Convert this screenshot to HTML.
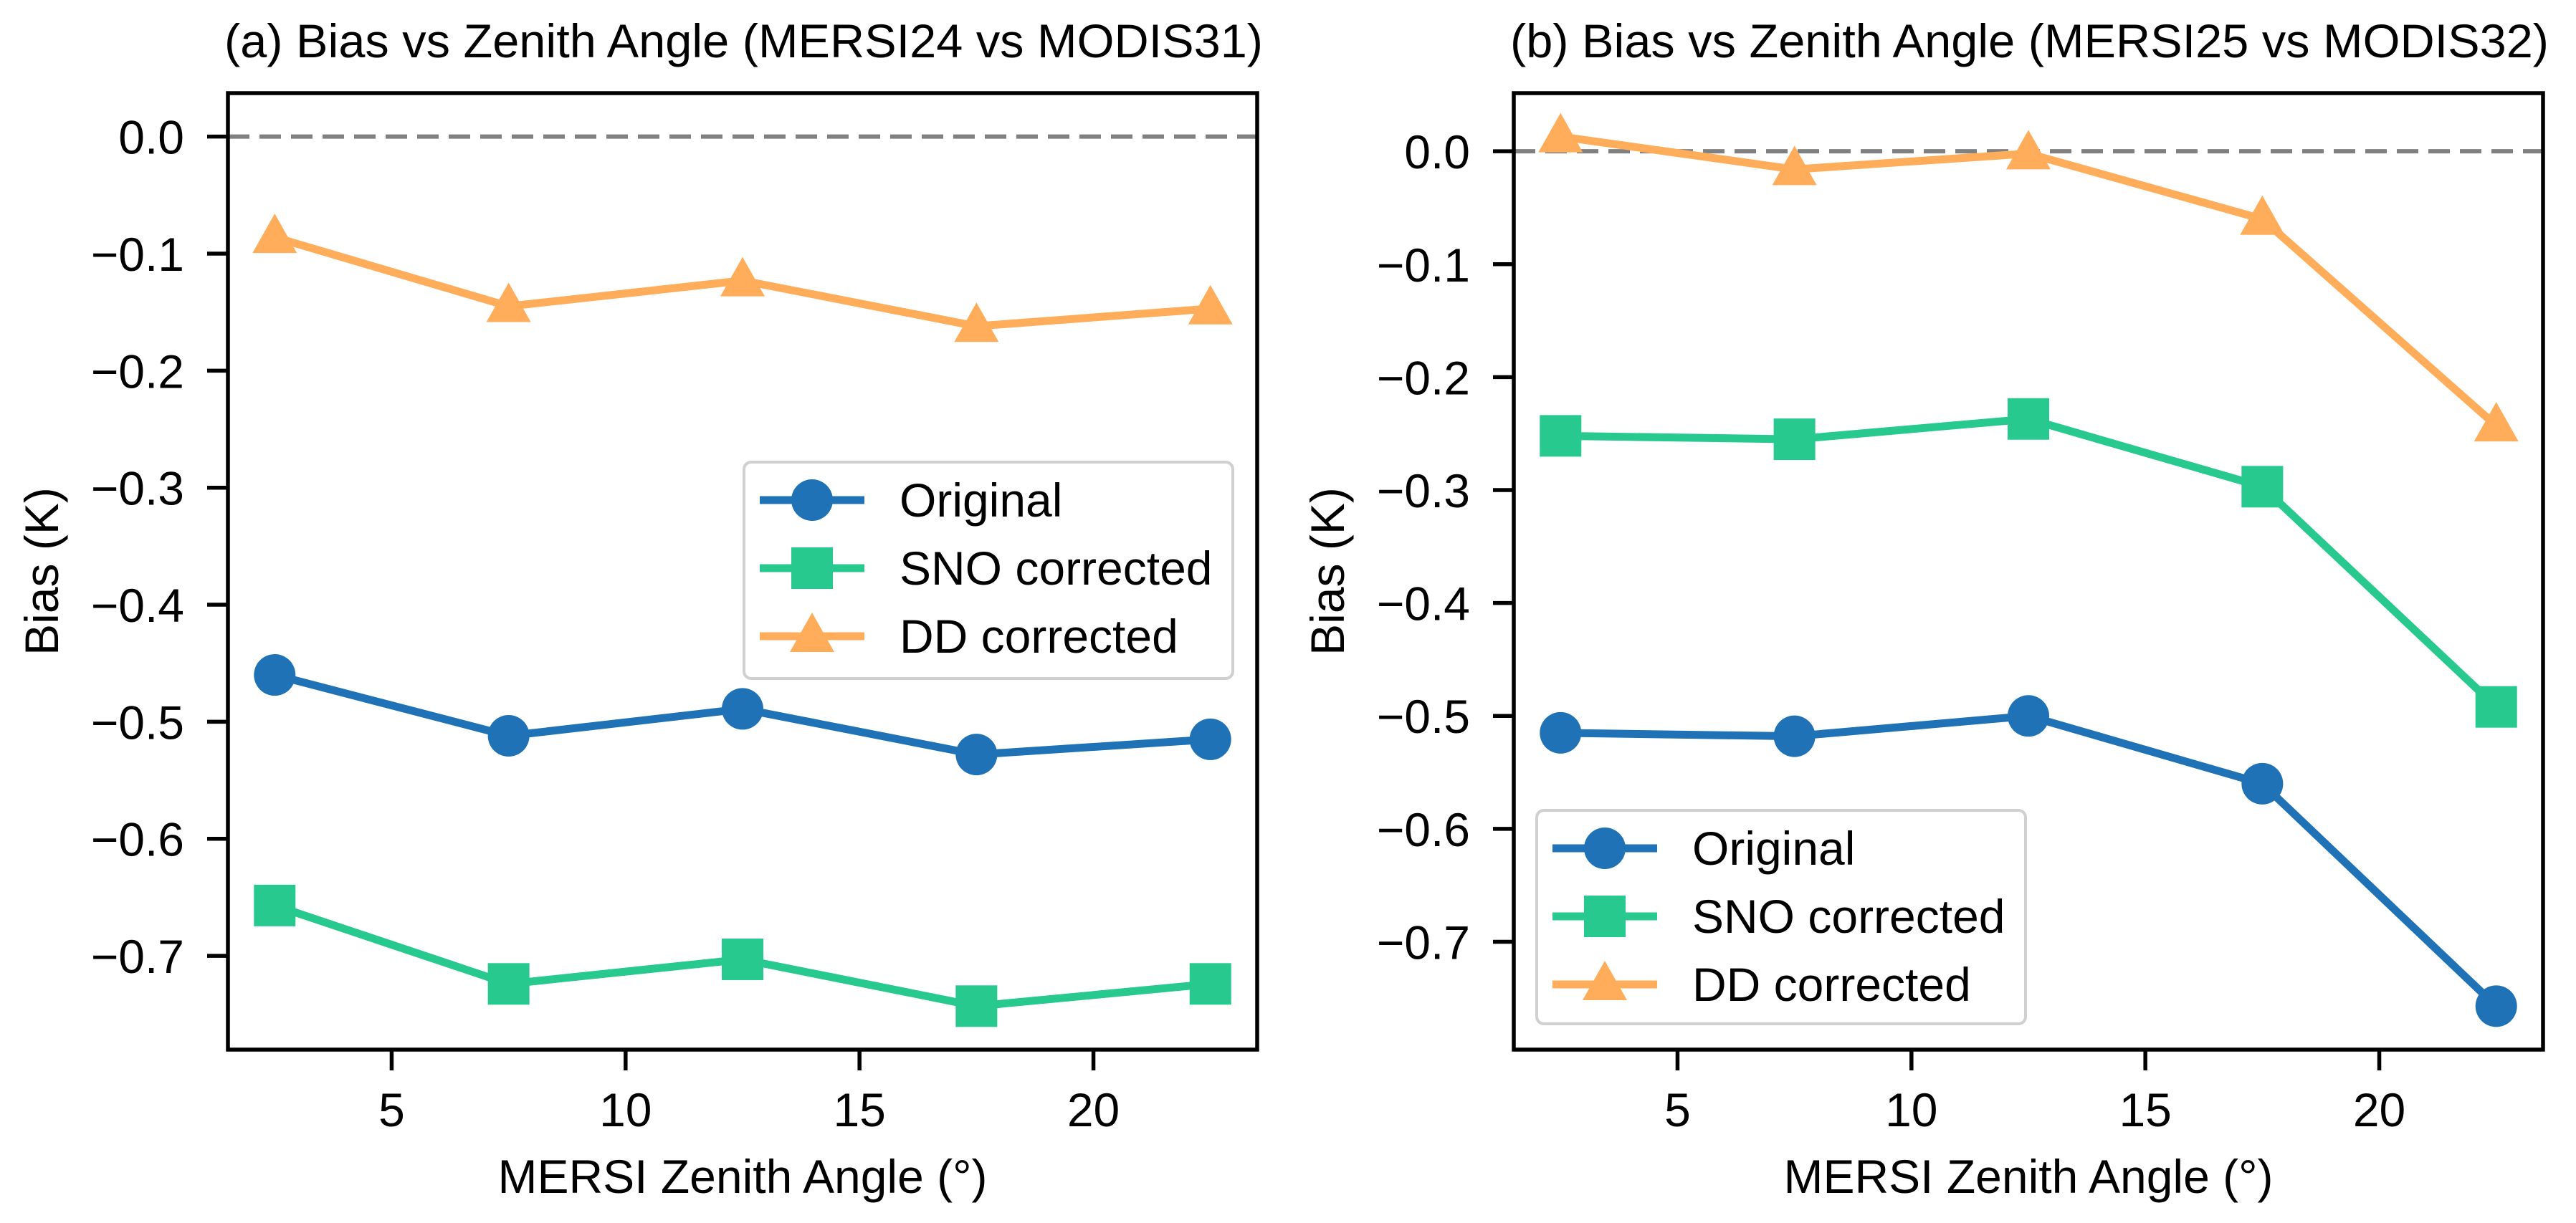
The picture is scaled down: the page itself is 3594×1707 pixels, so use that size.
<!DOCTYPE html>
<html><head><meta charset="utf-8"><style>
html,body{margin:0;padding:0;background:#fff}
svg{display:block}
text{font-family:"Liberation Sans",Arial,sans-serif;fill:#000}
</style></head><body>
<svg id="fig" width="3594" height="1707" viewBox="0 0 3594 1707" xmlns="http://www.w3.org/2000/svg"></svg>
<script>
const xAngles = [2.5, 7.5, 12.5, 17.5, 22.5];
const xTicks = [5, 10, 15, 20];
const seriesNames = ["Original", "SNO corrected", "DD corrected"];
const aOriginal = [-0.460, -0.512, -0.489, -0.528, -0.515];
const aSNO = [-0.657, -0.724, -0.703, -0.743, -0.724];
const aDD = [-0.086, -0.145, -0.123, -0.162, -0.147];
const bOriginal = [-0.515, -0.518, -0.500, -0.560, -0.757];
const bSNO = [-0.252, -0.255, -0.237, -0.297, -0.492];
const bDD = [0.013, -0.016, -0.002, -0.060, -0.243];
const yTicks = [0.0, -0.1, -0.2, -0.3, -0.4, -0.5, -0.6, -0.7];
const titleA = "(a) Bias vs Zenith Angle (MERSI24 vs MODIS31)";
const titleB = "(b) Bias vs Zenith Angle (MERSI25 vs MODIS32)";

const NS = "http://www.w3.org/2000/svg";
const svg = document.getElementById('fig');
const colors = ["#1f72b6", "#27c98e", "#ffad5b"];
const markers = ["circle", "square", "triangle"];

function mk(tag, attrs, parent) {
  const e = document.createElementNS(NS, tag);
  for (const k in attrs) e.setAttribute(k, attrs[k]);
  (parent || svg).appendChild(e);
  return e;
}
function marker(type, cx, cy, color, g) {
  let e;
  if (type === "circle") e = mk("circle", {cx: cx, cy: cy, r: 29, fill: color}, g);
  else if (type === "square") e = mk("rect", {x: cx - 29, y: cy - 29, width: 58, height: 58, fill: color}, g);
  else e = mk("polygon", {points: `${cx},${cy - 33} ${cx - 31},${cy + 22} ${cx + 31},${cy + 22}`, fill: color}, g);
  return e;
}

function panel(id, ox, series, title, legendPos) {
  const L = ox + 318, R = ox + 1754, T = 130, B = 1465;
  const all = series.flat().concat([0]);
  const mn = Math.min(...all), mx = Math.max(...all), pad = (mx - mn) * 0.05;
  const y0 = mn - pad, y1 = mx + pad;
  const xs = v => L + (v - 1.5) / 22 * (R - L);
  const ys = v => B - (v - y0) / (y1 - y0) * (B - T);
  const g = mk("g", {});
  
  

  const t = mk("text", {x: ox + 313, y: 80, "font-size": 66, textLength: 1449, lengthAdjust: "spacingAndGlyphs"}, g);
  
  
  t.textContent = title;

  const zl = mk("line", {x1: L, x2: R, y1: ys(0), y2: ys(0), stroke: "#808080", "stroke-width": 6, "stroke-dasharray": "30,14"}, g);
  
  

  series.forEach((vals, si) => {
    const sg = mk("g", {}, g);
    
    
    const pts = vals.map((v, i) => xs(xAngles[i]) + "," + ys(v)).join(" ");
    mk("polyline", {points: pts, fill: "none", stroke: colors[si], "stroke-width": 11, "stroke-linejoin": "round"}, sg);
    vals.forEach((v, i) => {
      const m = marker(markers[si], xs(xAngles[i]), ys(v), colors[si], sg);
      
      
    });
  });

  const fr = mk("rect", {x: L, y: T, width: R - L, height: B - T, fill: "none", stroke: "#000", "stroke-width": 5.5}, g);
  
  

  yTicks.forEach(v => {
    const y = ys(v);
    mk("line", {x1: L - 29, x2: L, y1: y, y2: y, stroke: "#000", "stroke-width": 5.5}, g);
    const tl = mk("text", {x: L - 61, y: y + 24, "font-size": 66, "text-anchor": "end"}, g);
    
    
    tl.textContent = v === 0 ? "0.0" : "\u2212" + Math.abs(v).toFixed(1);
  });
  xTicks.forEach(v => {
    const x = xs(v);
    mk("line", {x1: x, x2: x, y1: B, y2: B + 29, stroke: "#000", "stroke-width": 5.5}, g);
    const tl = mk("text", {x: x, y: 1572, "font-size": 66, "text-anchor": "middle"}, g);
    
    
    tl.textContent = v;
  });
  const xl = mk("text", {x: (L + R) / 2, y: 1665, "font-size": 66, "text-anchor": "middle"}, g);
  
  
  xl.textContent = "MERSI Zenith Angle (\u00b0)";
  const yl = mk("text", {x: 0, y: 0, "font-size": 66, "text-anchor": "middle", transform: `translate(${ox + 81},${(T + B) / 2}) rotate(-90)`}, g);
  
  
  yl.textContent = "Bias (K)";

  const lg = mk("g", {}, g);
  
  
  mk("rect", {x: legendPos.x, y: legendPos.y, width: legendPos.w, height: legendPos.h, rx: 10, fill: "#fff", "fill-opacity": 0.85, stroke: "#d0d0d0", "stroke-width": 4}, lg);
  seriesNames.forEach((n, si) => {
    const cy = legendPos.y + 53 + si * 95;
    const hx = legendPos.x + 22;
    const eg = mk("g", {}, lg);
    
    
    mk("line", {x1: hx, x2: hx + 146, y1: cy, y2: cy, stroke: colors[si], "stroke-width": 11}, eg);
    marker(markers[si], hx + 73, cy, colors[si], eg);
    const tx = mk("text", {x: legendPos.x + 217, y: cy + 23, "font-size": 66}, eg);
    tx.textContent = n;
  });
}

panel('panel-a', 0, [aOriginal, aSNO, aDD], titleA, {x: 1038, y: 645, w: 682, h: 302});
panel('panel-b', 1794, [bOriginal, bSNO, bDD], titleB, {x: 2144, y: 1131, w: 682, h: 298});
</script>
</body></html>
